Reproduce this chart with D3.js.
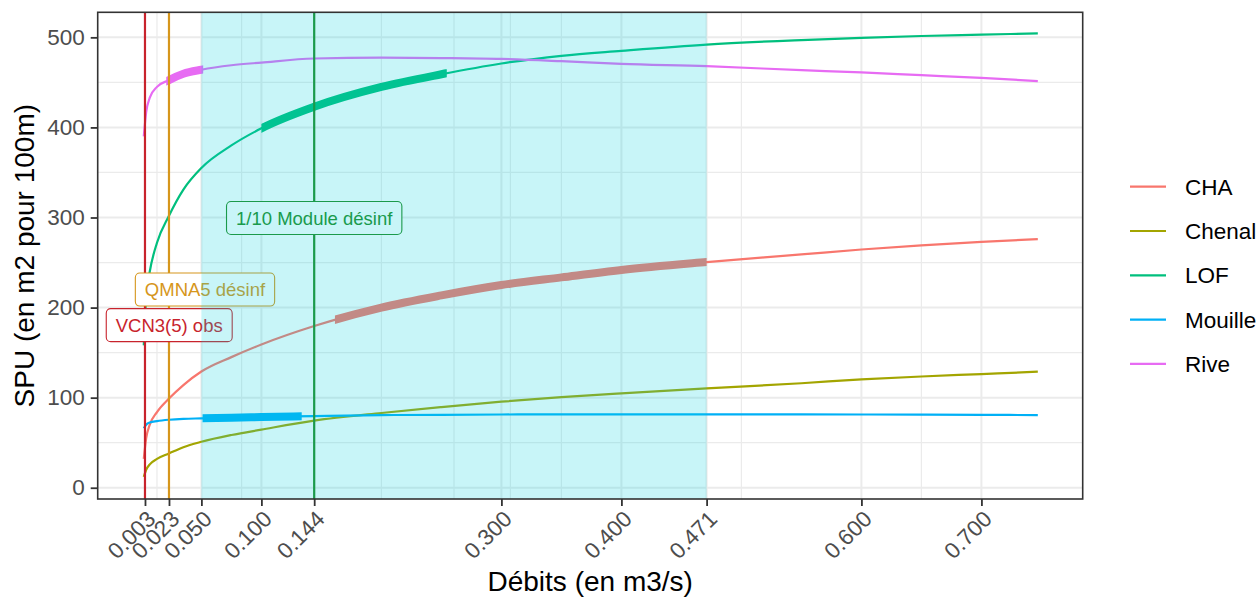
<!DOCTYPE html>
<html><head><meta charset="utf-8">
<script src="https://cdn.jsdelivr.net/npm/d3@7"></script>
<style>
html,body{margin:0;padding:0;background:#fff;}
text{font-family:"Liberation Sans",Arial,sans-serif;}
</style></head>
<body><svg id="c" width="1256" height="600"></svg>
<script>
// ---- data ----
const debits = [0.002, 0.004, 0.007, 0.013, 0.023, 0.035, 0.05, 0.075, 0.1, 0.144, 0.2, 0.25, 0.3, 0.35, 0.4, 0.471, 0.55, 0.6, 0.65, 0.7, 0.747];
const spuCHA     = [32, 55, 70, 84, 99, 114, 129, 145, 159, 179.5, 200, 213.5, 225, 233.5, 241.7, 250.5, 259, 264.5, 269, 273, 276];
const spuChenal  = [12, 20, 26, 32, 38, 45, 51, 58.5, 64.5, 74.5, 83, 89.5, 95.5, 100.5, 104.8, 110.3, 116, 120.3, 123.5, 126.2, 128.8];
const spuLOF     = [158, 212, 240, 272, 302, 331, 355, 380, 399, 423, 445, 459, 471, 479.5, 485, 492, 497, 499.5, 501.5, 503, 504.4];
const spuMouille = [66, 70, 72.5, 74, 75.5, 76.5, 77, 77.8, 78.5, 79.5, 80.6, 81, 81.3, 81.5, 81.5, 81.5, 81.4, 81.3, 81.1, 80.9, 80.7];
const spuRive    = [390, 417, 433, 445, 452.5, 459.5, 464, 469, 472, 476.5, 477.5, 477, 476, 473.5, 470.5, 468, 463.5, 461, 458, 455, 451.5];
const seriesNames = ["CHA", "Chenal", "LOF", "Mouille", "Rive"];
const seriesValues = [spuCHA, spuChenal, spuLOF, spuMouille, spuRive];
// highlighted (thick) ranges of debit per series
const thickSeries = ["Rive", "LOF", "CHA", "Mouille"];
const thickFrom   = [0.0207, 0.1, 0.1613, 0.051];
const thickTo     = [0.0515, 0.2545, 0.471, 0.1336];
// reference flows
const refValues = [0.003, 0.023, 0.144];
const refLabels = ["VCN3(5) obs", "QMNA5 désinf", "1/10 Module désinf"];
const refLabelX = [0.0232, 0.053, 0.144];
const refLabelY = [180.5, 220, 299.5];
// shaded band
const bandFrom = 0.05, bandTo = 0.471;
// axes
const xTicks = [0.003, 0.023, 0.05, 0.1, 0.144, 0.3, 0.4, 0.471, 0.6, 0.7];
const xMinor = [0.013, 0.0835, 0.2, 0.2605, 0.3075, 0.35, 0.5, 0.65];
const yTicks = [0, 100, 200, 300, 400, 500];
const yMinor = [50, 150, 250, 350, 450];

// ---- styles ----
const colors = {CHA:"#F8766D", Chenal:"#A3A500", LOF:"#00BF7D", Mouille:"#00B0F6", Rive:"#E76BF3"};
const refColors = ["#C8232C", "#D6961C", "#228B22"];

const svg = d3.select("#c");
const L = 97.7, R = 1082.7, T = 12.3, B = 499;
const x = d3.scaleLinear().domain([-0.0364, 0.7844]).range([L, R]);
const y = d3.scaleLinear().domain([-12.5, 527.8]).range([B, T]);

svg.append("rect").attr("width",1256).attr("height",600).attr("fill","#fff");

// grid
const g = svg.append("g");
g.selectAll(".ymin").data(yMinor).join("line").attr("x1",L).attr("x2",R)
  .attr("y1",d=>y(d)).attr("y2",d=>y(d)).attr("stroke","#EBEBEB").attr("stroke-width",1.2);
g.selectAll(".xmin").data(xMinor).join("line").attr("y1",T).attr("y2",B)
  .attr("x1",d=>x(d)).attr("x2",d=>x(d)).attr("stroke","#EBEBEB").attr("stroke-width",1.2);
g.selectAll(".ymaj").data(yTicks).join("line").attr("x1",L).attr("x2",R)
  .attr("y1",d=>y(d)).attr("y2",d=>y(d)).attr("stroke","#EBEBEB").attr("stroke-width",2);
g.selectAll(".xmaj").data(xTicks).join("line").attr("y1",T).attr("y2",B)
  .attr("x1",d=>x(d)).attr("x2",d=>x(d)).attr("stroke","#EBEBEB").attr("stroke-width",2);

// curves
const line = d3.line().x(d=>x(d[0])).y(d=>y(d[1])).curve(d3.curveMonotoneX);
const defs = svg.append("defs");
const curves = svg.append("g");
seriesNames.forEach((name,i)=>{
  const pts = debits.map((q,j)=>[q, seriesValues[i][j]]);
  curves.append("path").attr("d", line(pts)).attr("fill","none")
    .attr("stroke", colors[name]).attr("stroke-width", 2.2).attr("stroke-linejoin","round");
});
thickSeries.forEach((name,k)=>{
  const i = seriesNames.indexOf(name);
  const pts = debits.map((q,j)=>[q, seriesValues[i][j]]);
  const id = "clip"+k;
  defs.append("clipPath").attr("id",id).append("rect")
    .attr("x", x(thickFrom[k])).attr("width", x(thickTo[k])-x(thickFrom[k]))
    .attr("y", T).attr("height", B-T);
  curves.append("path").attr("d", line(pts)).attr("fill","none")
    .attr("clip-path","url(#"+id+")")
    .attr("stroke", colors[name]).attr("stroke-width", 8);
});

// reference lines
svg.append("g").selectAll("line").data(refValues).join("line")
  .attr("x1",d=>x(d)).attr("x2",d=>x(d)).attr("y1",T).attr("y2",B)
  .attr("stroke",(d,i)=>refColors[i]).attr("stroke-width",2.2);

// labels
const lab = svg.append("g");
refLabels.forEach((t,i)=>{
  const gg = lab.append("g").attr("transform",`translate(${x(refLabelX[i])},${y(refLabelY[i])})`);
  const rc = gg.append("rect");
  const tx = gg.append("text").text(t).attr("text-anchor","middle").attr("dy","0.36em")
    .attr("font-size",18.5).attr("fill",refColors[i]);
  const w = tx.node().getComputedTextLength() + 19;
  rc.attr("x",-w/2).attr("y",-16.5).attr("width",w).attr("height",33).attr("rx",4.5)
    .attr("fill","#fff").attr("stroke",refColors[i]).attr("stroke-width",1.1);
});

// shaded band (drawn on top, translucent)
svg.append("rect").attr("x",x(bandFrom)).attr("width",x(bandTo)-x(bandFrom))
  .attr("y",T).attr("height",B-T).attr("fill","rgb(5,210,223)").attr("fill-opacity",0.22);

// panel border
svg.append("rect").attr("x",L).attr("y",T).attr("width",R-L).attr("height",B-T)
  .attr("fill","none").attr("stroke","#333").attr("stroke-width",1.6);

// axes
const xa = svg.append("g").attr("transform",`translate(0,${B})`)
  .call(d3.axisBottom(x).tickValues(xTicks).tickFormat(d3.format(".3f")).tickSize(7).tickPadding(0));
xa.select(".domain").remove();
xa.selectAll(".tick line").attr("stroke","#333").attr("stroke-width",1.8);
xa.selectAll(".tick text").attr("font-size",22.5).attr("fill","#4D4D4D")
  .attr("text-anchor","end").attr("dy","0.72em").attr("y",0)
  .attr("transform","translate(0,10) rotate(-45)");

const ya = svg.append("g").attr("transform",`translate(${L},0)`)
  .call(d3.axisLeft(y).tickValues(yTicks).tickSize(7).tickPadding(6));
ya.select(".domain").remove();
ya.selectAll(".tick line").attr("stroke","#333").attr("stroke-width",1.8);
ya.selectAll(".tick text").attr("font-size",22.5).attr("fill","#4D4D4D");

// titles
svg.append("text").attr("x",(L+R)/2).attr("y",591).attr("text-anchor","middle")
  .attr("font-size",28).attr("fill","#000").text("Débits (en m3/s)");
svg.append("text").attr("transform",`translate(33.5,${(T+B)/2}) rotate(-90)`)
  .attr("text-anchor","middle").attr("font-size",28).attr("fill","#000").text("SPU (en m2 pour 100m)");

// legend
const lg = svg.append("g");
seriesNames.forEach((name,i)=>{
  const cy = 186.7 + i*44.3;
  lg.append("line").attr("x1",1130).attr("x2",1166).attr("y1",cy).attr("y2",cy)
    .attr("stroke",colors[name]).attr("stroke-width",2.2);
  lg.append("text").attr("x",1185).attr("y",cy).attr("dy","0.36em").attr("font-size",22.5)
    .attr("fill","#000").text(name);
});
</script></body></html>
